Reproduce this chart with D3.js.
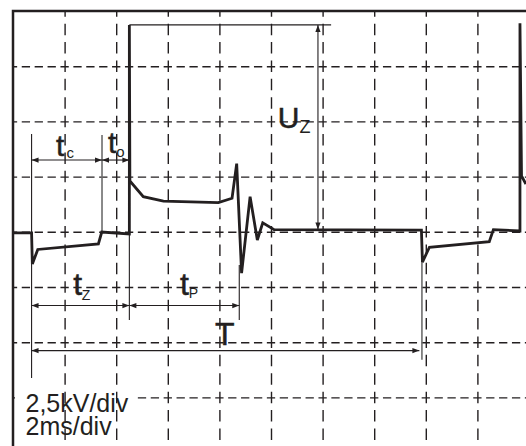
<!DOCTYPE html>
<html>
<head>
<meta charset="utf-8">
<script src="https://cdn.jsdelivr.net/npm/d3@7"></script>
<style>
body { margin:0; background:#fff; }
svg { display:block; }
.lbl { font-family:"Liberation Sans", Arial, sans-serif; fill:#231f20; }
.grid line { stroke:#231f20; stroke-width:1.4; }
.grid path { display:none; }
</style>
</head>
<body>
<div id="scope"></div>
<script>
// screen settings (10 x 8 divisions, 2 ms/div, 2.5 kV/div)
var grid_ms = [2,4,6,8,10,12,14,16,18];
var grid_kv = [7.5,5,2.5,0,-2.5,-5,-7.5];

// waveform
var wave_ms = [0, 0.72, 0.75, 0.96, 3.31, 3.44, 4.51, 4.51, 4.53, 5.05, 5.83, 7.96, 8.49, 8.67, 8.86, 9.19, 9.47, 9.68, 10.12, 15.83, 15.87, 16.14, 18.46, 18.62, 19.65, 19.65, 19.71, 19.88];
var wave_kv = [-0.05, -0.05, -1.46, -0.80, -0.55, -0.01, -0.10, 9.37, 2.30, 1.59, 1.39, 1.32, 1.52, 3.09, -1.87, 1.59, -0.37, 0.41, 0.10, 0.08, -1.37, -0.70, -0.45, 0.10, 0.04, 9.44, 2.53, 2.16];

// measuring arrows: tc, to, tz, tp, T, Uz
var arrow_ms1 = [0.72, 3.45, 0.72, 4.51, 0.72, 11.82];
var arrow_ms2 = [3.45, 4.51, 4.51, 8.77, 15.75, 11.82];
var arrow_kv1 = [3.25, 3.25, -3.34, -3.34, -5.38, 9.37];
var arrow_kv2 = [3.25, 3.25, -3.34, -3.34, -5.38, 0.10];

// helper lines
var mark_ms1 = [0.72, 3.45, 4.51, 8.77, 15.85, 4.51];
var mark_ms2 = [0.72, 3.45, 4.51, 8.77, 15.85, 12.33];
var mark_kv1 = [4.43, 4.38, -0.10, -1.50, -1.37, 9.37];
var mark_kv2 = [-6.62, 0.00, -4.00, -4.00, -5.80, 9.37];
var mark_grey = [false, true, false, false, true, false];

// labels
var label_main = ["t", "t", "U", "t", "t", "T"];
var label_sub = ["c", "o", "Z", "Z", "P", ""];
var label_ms = [1.67, 3.68, 10.26, 2.34, 6.47, 7.83];
var label_kv = [3.43, 3.57, 4.69, -2.86, -2.86, -5.14];
var scale_text = ["2,5kV/div", "2ms/div"];

var draw = function(){
	var svg = d3.select("#scope").append("svg").attr("width", 526).attr("height", 446);
	var x = d3.scaleLinear().domain([0,20]).range([13,529]);
	var y = d3.scaleLinear().domain([-10,10]).range([452.6,11]);
	var W = x(20)-x(0), H = y(-10)-y(10);

	// horizontal grid
	var yGrid = d3.axisLeft(y).tickValues(grid_kv).tickSize(-W).tickFormat("");
	svg.append("g").attr("class","grid").attr("transform","translate("+x(0)+",0)").call(yGrid)
		.selectAll("line").attr("stroke-dasharray","8.3,4.6").attr("stroke-dashoffset",4.15);

	// the scale text hides the horizontal grid behind it
	svg.append("rect").attr("x",15).attr("y",388).attr("width",120).attr("height",58).attr("fill","#fff");

	// vertical grid
	var xGrid = d3.axisTop(x).tickValues(grid_ms).tickSize(-H).tickFormat("");
	svg.append("g").attr("class","grid").attr("transform","translate(0,"+y(10)+")").call(xGrid)
		.selectAll("line").attr("stroke-dasharray","11.5,6.9").attr("stroke-dashoffset",5.75);

	// screen frame
	svg.append("rect").attr("x",x(0)).attr("y",y(10)).attr("width",W).attr("height",H)
		.attr("fill","none").attr("stroke","#231f20").attr("stroke-width",2.5);

	// helper lines
	for(var i=0;i<mark_ms1.length;i++){
		svg.append("line")
			.attr("x1",x(mark_ms1[i])).attr("x2",x(mark_ms2[i]))
			.attr("y1",y(mark_kv1[i])).attr("y2",y(mark_kv2[i]))
			.attr("stroke", mark_grey[i] ? "#6d6d6d" : "#231f20")
			.attr("stroke-width", mark_grey[i] ? 1.6 : 1.1);
	}

	// arrows with a head on both ends
	var head = function(x0,y0,x1,y1){
		var a = Math.atan2(y1-y0, x1-x0), L = 7, w = 2.6;
		var bx = x1 - L*Math.cos(a), by = y1 - L*Math.sin(a);
		return "M"+x1+","+y1+"L"+(bx - w*Math.sin(a))+","+(by + w*Math.cos(a))
			+"L"+(bx + w*Math.sin(a))+","+(by - w*Math.cos(a))+"Z";
	};
	for(var k=0;k<arrow_ms1.length;k++){
		var ax1 = x(arrow_ms1[k]), ax2 = x(arrow_ms2[k]), ay1 = y(arrow_kv1[k]), ay2 = y(arrow_kv2[k]);
		svg.append("line").attr("x1",ax1).attr("x2",ax2).attr("y1",ay1).attr("y2",ay2)
			.attr("stroke","#231f20").attr("stroke-width",1.1);
		svg.append("path").attr("d",head(ax1,ay1,ax2,ay2)).attr("fill","#231f20");
		svg.append("path").attr("d",head(ax2,ay2,ax1,ay1)).attr("fill","#231f20");
	}

	// waveform
	var line = d3.line()
		.x(function(d){ return x(d[0]); })
		.y(function(d){ return y(d[1]); });
	var pts = wave_ms.map(function(d,i){ return [d, wave_kv[i]]; });
	svg.append("path").datum(pts)
		.attr("fill","none").attr("stroke","#231f20").attr("stroke-width",2.8)
		.attr("stroke-linejoin","miter").attr("d",line);

	// labels
	var main_size = [30,30,30,32,32,32];
	var sub_size = [15,15,18,14,14,14];
	var sub_dx = [2,0,0,-0.5,0,0];
	var sub_dy = [2,4,5,5,3,0];
	for(var j=0;j<label_main.length;j++){
		var t = svg.append("text").attr("class","lbl")
			.attr("x",x(label_ms[j])).attr("y",y(label_kv[j]));
		t.append("tspan").style("font-size",main_size[j]+"px")
			.attr("stroke","#231f20").attr("stroke-width",0.5).text(label_main[j]);
		if(label_sub[j]){
			t.append("tspan").attr("dx",sub_dx[j]).attr("dy",sub_dy[j])
				.style("font-size",sub_size[j]+"px").text(label_sub[j]);
		}
	}

	// scale settings, two lines in one text block
	var st = svg.append("text").attr("class","lbl").style("font-size","25px");
	st.selectAll("tspan").data(scale_text).enter()
		.append("tspan").attr("x",25.5)
		.attr("y",function(d,i){ return 411.7 + i*23.5; })
		.text(function(d){ return d; });
};

window.onload = function(){
	draw();
};
</script>
</body>
</html>
